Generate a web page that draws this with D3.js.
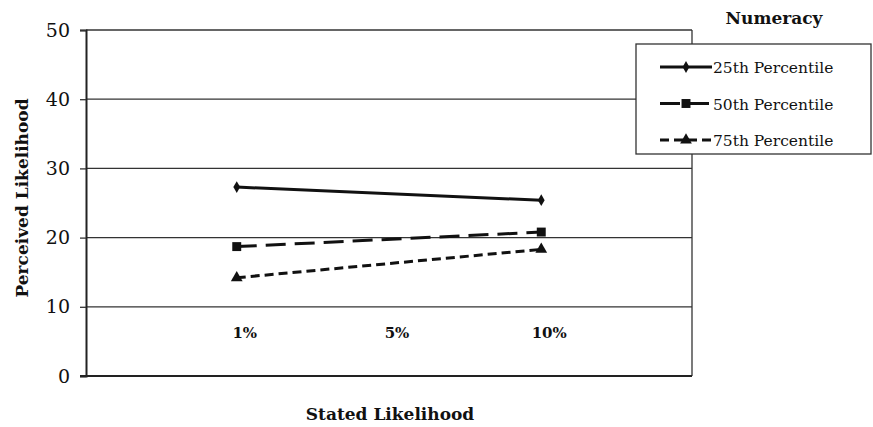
<!DOCTYPE html>
<html>
<head>
<meta charset="utf-8">
<script src="https://cdnjs.cloudflare.com/ajax/libs/d3/7.8.5/d3.min.js"></script>
<style>
  body { margin: 0; background: #fff; }
  svg text { font-family: "DejaVu Serif", "Liberation Serif", serif; fill: #111; }
</style>
</head>
<body>
<div id="chart"></div>
<script>
// stated likelihood categories (x axis)
var categories = ['1%', '5%', '10%'];
// perceived likelihood per numeracy group, only 1% and 10% were measured
var seriesNames = ['25th Percentile', '50th Percentile', '75th Percentile'];
var seriesCats = ['1%', '10%'];
var p25 = [27.3, 25.4];
var p50 = [18.7, 20.8];
var p75 = [14.2, 18.3];
var yTicks = [0, 10, 20, 30, 40, 50];

var W = 873, H = 427;
var m = {left: 86, right: 181, top: 30, bottom: 51};

var svg = d3.select('#chart').append('svg')
    .attr('width', W).attr('height', H);

var x = d3.scalePoint().domain(categories).range([m.left, W - m.right]).padding(0.99);
var y = d3.scaleLinear().domain([0, 50]).range([H - m.bottom, m.top]);

// gridlines
svg.append('g').selectAll('line').data(yTicks).enter().append('line')
    .attr('x1', m.left).attr('x2', W - m.right)
    .attr('y1', d => y(d)).attr('y2', d => y(d))
    .attr('stroke', '#333').attr('stroke-width', 1.3);

// frame right side
svg.append('line')
    .attr('x1', W - m.right).attr('x2', W - m.right)
    .attr('y1', y(50)).attr('y2', y(0))
    .attr('stroke', '#333').attr('stroke-width', 1.3);

// y axis
var yAxis = svg.append('g')
    .attr('transform', `translate(${m.left},0)`)
    .call(d3.axisLeft(y).tickValues(yTicks).tickSize(6).tickPadding(10));
yAxis.select('.domain').attr('stroke', '#222').attr('stroke-width', 2);
yAxis.selectAll('.tick line').attr('stroke', '#333').attr('stroke-width', 1.3);
yAxis.selectAll('text').style('font-size', '19px').style('font-family', '"DejaVu Serif", serif').attr('fill', '#333');

// x baseline
svg.append('line')
    .attr('x1', m.left - 6).attr('x2', W - m.right)
    .attr('y1', y(0)).attr('y2', y(0))
    .attr('stroke', '#222').attr('stroke-width', 2.2);

// x category labels sit inside the plot, above the baseline
svg.append('g').selectAll('text').data(categories).enter().append('text')
    .attr('x', d => x(d) + 8)
    .attr('y', y(5.5))
    .attr('text-anchor', 'middle')
    .style('font-size', '15px').style('font-weight', 'bold')
    .text(d => d);

var styles = [
    {dash: null, marker: d3.symbolDiamond, size: 40},
    {dash: '20,9', marker: d3.symbolSquare, size: 80},
    {dash: '9,5', marker: d3.symbolTriangle, size: 60}
];
var allSeries = [p25, p50, p75];

var line = d3.line().x((d, i) => x(seriesCats[i])).y(d => y(d));

allSeries.forEach(function(vals, si) {
    var st = styles[si];
    svg.append('path').datum(vals)
        .attr('d', line)
        .attr('fill', 'none').attr('stroke', '#111').attr('stroke-width', 3)
        .attr('stroke-dasharray', st.dash);
    svg.append('g').selectAll('path').data(vals).enter().append('path')
        .attr('transform', (d, i) => `translate(${x(seriesCats[i])},${y(d)})`)
        .attr('d', d3.symbol().type(st.marker).size(st.size))
        .attr('fill', '#111');
});

// legend
var lg = svg.append('g').attr('transform', 'translate(636,44)');
lg.append('rect').attr('width', 235).attr('height', 110)
    .attr('fill', '#fff').attr('stroke', '#333').attr('stroke-width', 1.3);
svg.append('text').attr('x', 774).attr('y', 24).attr('text-anchor', 'middle')
    .style('font-size', '17px').style('font-weight', 'bold').text('Numeracy');
seriesNames.forEach(function(name, si) {
    var st = styles[si];
    var ly = 23 + si * 36.5;
    lg.append('line').attr('x1', 24).attr('x2', 76).attr('y1', ly).attr('y2', ly)
        .attr('stroke', '#111').attr('stroke-width', 3)
        .attr('stroke-dasharray', si === 1 ? '20,9,20' : st.dash);
    lg.append('path').attr('transform', `translate(50,${ly})`)
        .attr('d', d3.symbol().type(st.marker).size(st.size)).attr('fill', '#111');
    lg.append('text').attr('x', 77).attr('y', ly + 6)
        .style('font-size', '15.5px').text(name);
});

// axis titles
svg.append('text').attr('x', 390).attr('y', 420).attr('text-anchor', 'middle')
    .style('font-size', '17px').style('font-weight', 'bold').text('Stated Likelihood');
svg.append('text').attr('transform', 'translate(28,198) rotate(-90)')
    .attr('text-anchor', 'middle')
    .style('font-size', '17px').style('font-weight', 'bold').text('Perceived Likelihood');
</script>
</body>
</html>
